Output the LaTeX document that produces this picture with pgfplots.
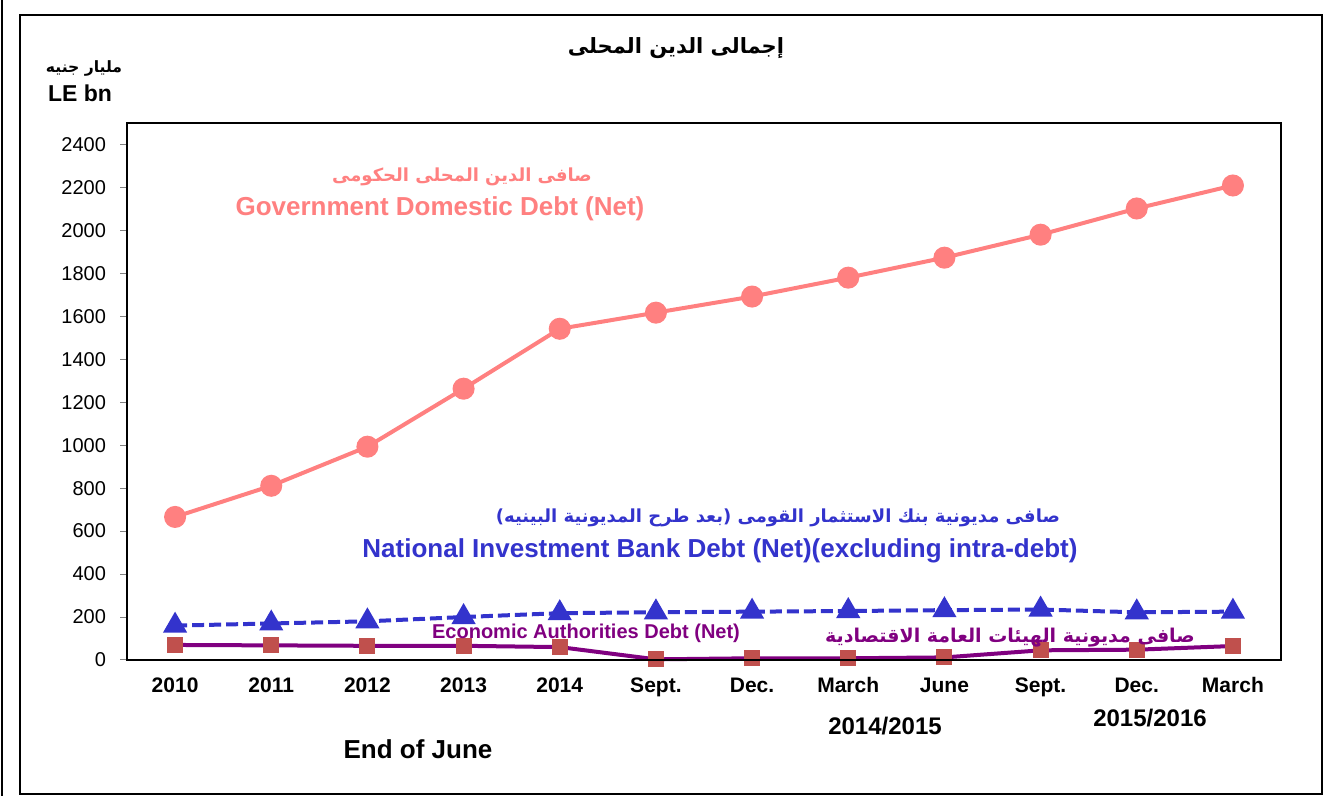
\documentclass[border=0pt]{standalone}
\usepackage{pgfplots}
\pgfplotsset{compat=1.18}
\usepackage{fontspec}
\setmainfont{Liberation Sans}
\newfontfamily\arabicfont[Script=Arabic]{DejaVu Sans}
\TeXXeTstate=1
\definecolor{govc}{RGB}{255,128,128}
\definecolor{nibc}{RGB}{51,51,204}
\definecolor{ecoc}{RGB}{128,0,128}
\definecolor{sqc}{RGB}{192,80,77}
\begin{document}
\begin{tikzpicture}[x=1pt,y=1pt]
\useasboundingbox (0,0) rectangle (664.5,398);
\draw[line width=1pt] (10,1) rectangle (661,390.5);
\draw[line width=1pt] (1.2,0) -- (1.2,398);
\begin{axis}[
  at={(63.5pt,68pt)}, anchor=south west,
  scale only axis, width=577pt, height=268.5pt,
  xmin=-0.5, xmax=11.5, ymin=0, ymax=2500,
  ytick={0,200,...,2400},
  xtick={0,...,11},
  xticklabels={2010,2011,2012,2013,2014,Sept.,Dec.,March,June,Sept.,Dec.,March},
  /pgf/number format/assume math mode=true,
  /pgf/number format/1000 sep={},
  axis line style={line width=1pt},
  tick align=outside,
  major tick length=3.5pt,
  ytick style={gray, line width=0.5pt},
  xtick style={draw=none},
  axis x line*=bottom, axis y line*=left,
  yticklabel style={font=\fontsize{10}{11}\selectfont, xshift=-3.5pt},
  xticklabel style={font=\bfseries\fontsize{10.5}{12}\selectfont, text height=8pt, text depth=1pt, yshift=-1pt},
  clip=false,
]
\addplot[color=govc, line width=2pt, mark=*, mark size=4.5pt, mark options={fill=govc, draw=govc, solid}] coordinates {
(0,666) (1,811) (2,993) (3,1263) (4,1542) (5,1617) (6,1692) (7,1780) (8,1873) (9,1980) (10,2102) (11,2209)};
\addplot[color=nibc, line width=2pt, dash pattern=on 6pt off 2.5pt, mark=triangle*, mark size=5pt, mark options={fill=nibc, draw=nibc, solid}] coordinates {
(0,160) (1,170) (2,180) (3,200) (4,218) (5,222) (6,225) (7,228) (8,232) (9,235) (10,222) (11,225)};
\addplot[color=ecoc, line width=2pt, mark=square*, mark size=3pt, mark options={fill=sqc, draw=sqc, solid}] coordinates {
(0,70) (1,68) (2,66) (3,66) (4,60) (5,3) (6,8) (7,8) (8,12) (9,45) (10,48) (11,65)};
\end{axis}
\draw[line width=1pt] (63.5,68) rectangle (640.5,336.5);
% title and units
\node[font=\arabicfont\bfseries\fontsize{10.5}{12}\selectfont] at (338,374) {\beginR إجمالى الدين المحلى\endR};
\node[font=\arabicfont\bfseries\fontsize{7.8}{9}\selectfont] at (42,364) {\beginR مليار جنيه\endR};
\node[font=\bfseries\fontsize{11.5}{13}\selectfont, anchor=west] at (20.5,351.5) {LE bn};
% series labels
\node[text=govc, font=\arabicfont\bfseries\fontsize{9}{10}\selectfont] at (231,309.5) {\beginR صافى الدين المحلى الحكومى\endR};
\node[text=govc, font=\bfseries\fontsize{13}{15}\selectfont] at (220,293.5) {Government Domestic Debt (Net)};
\node[text=nibc, font=\arabicfont\bfseries\fontsize{9}{10}\selectfont] at (389,139) {\beginR صافى مديونية بنك الاستثمار القومى (بعد طرح المديونية البينيه)\endR};
\node[text=nibc, font=\bfseries\fontsize{13}{15}\selectfont] at (360,122.5) {National Investment Bank Debt (Net)(excluding intra-debt)};
\node[text=ecoc, font=\bfseries\fontsize{10}{11}\selectfont] at (293,81.5) {Economic Authorities Debt (Net)};
\node[text=ecoc, font=\arabicfont\bfseries\fontsize{9.5}{11}\selectfont] at (505,79) {\beginR صافى مديونية الهيئات العامة الاقتصادية\endR};
% x group labels
\node[font=\bfseries\fontsize{12}{14}\selectfont] at (442.5,35) {2014/2015};
\node[font=\bfseries\fontsize{12}{14}\selectfont] at (575,39) {2015/2016};
\node[font=\bfseries\fontsize{13}{15}\selectfont] at (209,23.5) {End of June};
\end{tikzpicture}
\end{document}
